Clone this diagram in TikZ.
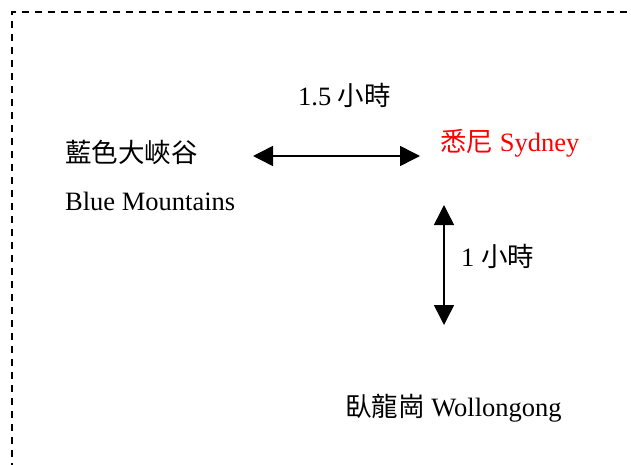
\documentclass[tikz,border=0pt]{standalone}
\usepackage{fontspec}
\setmainfont{Liberation Serif}
\newfontfamily\cjk{Noto Sans CJK TC}
\usetikzlibrary{arrows.meta}
\tikzset{
  lbl/.style={anchor=base west, inner sep=0pt, font=\fontsize{26.5}{32}\selectfont},
  conn/.style={line width=1.5pt, {Triangle[length=20pt,width=20pt]}-{Triangle[length=20pt,width=20pt]}},
  frame/.style={line width=2pt, dash pattern=on 7pt off 6pt}
}
\begin{document}
\begin{tikzpicture}[x=1pt,y=-1pt]
\useasboundingbox (0,0) rectangle (631,465);
\coordinate (fb) at (12,470);
\coordinate (fc) at (12,12);
\coordinate (fr) at (636,12);
\draw[frame] (fb) -- (fc) -- (fr);
\node[lbl] (t15) at (298,106) {1.5 {\cjk 小時}};
\node[lbl] (bmz) at (65,163) {\cjk 藍色大峽谷};
\node[lbl] (bme) at (65,210) {Blue Mountains};
\node[lbl, text=red] (syd) at (440,152) {{\cjk 悉尼} Sydney};
\node[lbl] (t1) at (461,266) {1 {\cjk 小時}};
\node[lbl] (wol) at (345,416) {{\cjk 臥龍崗} Wollongong};
\coordinate (ha) at (253,156);
\coordinate (hb) at (420,156);
\coordinate (va) at (444,205);
\coordinate (vb) at (444,325);
\draw[conn] (ha) -- (hb);
\draw[conn] (va) -- (vb);
\end{tikzpicture}
\end{document}
